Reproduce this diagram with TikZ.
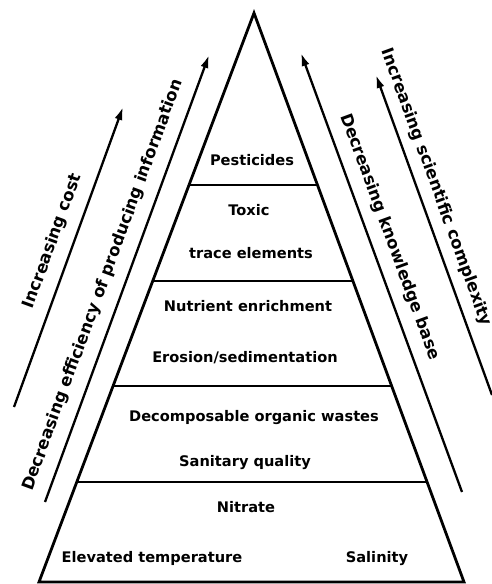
\documentclass[tikz,border=0pt]{standalone}
\usepackage{fontspec}
\setmainfont{DejaVu Sans}
\usepackage{tikz}
\usetikzlibrary{calc}
\usetikzlibrary{arrows.meta}
\tikzstyle{layer} = [font=\bfseries\fontsize{14.6}{16}\selectfont, anchor=base, inner sep=0pt]
\tikzstyle{trend} = [font=\bfseries\fontsize{16.5}{18}\selectfont, sloped, inner sep=2pt]
\tikzstyle{arrow} = [line width=2.3pt,-{Latex[length=13pt,width=8pt]}]
\tikzstyle{side} = [line width=2.8pt, line join=miter]
\tikzstyle{level} = [line width=2.2pt]

\begin{document}
\begin{tikzpicture}[x=1pt,y=-1pt]
\useasboundingbox (0,0) rectangle (492,584);
% pyramid
\coordinate (top) at (254,13);
\coordinate (bl) at (39,582);
\coordinate (br) at (464,582);
\draw[side] (top) -- (bl) -- (br) -- cycle;
\coordinate (l1) at ($(top)!0.302!(bl)$);
\coordinate (r1) at ($(top)!0.302!(br)$);
\coordinate (l2) at ($(top)!0.471!(bl)$);
\coordinate (r2) at ($(top)!0.471!(br)$);
\coordinate (l3) at ($(top)!0.656!(bl)$);
\coordinate (r3) at ($(top)!0.656!(br)$);
\coordinate (l4) at ($(top)!0.824!(bl)$);
\coordinate (r4) at ($(top)!0.824!(br)$);
\draw[level] (l1) -- (r1);
\draw[level] (l2) -- (r2);
\draw[level] (l3) -- (r3);
\draw[level] (l4) -- (r4);
% layer texts
\node[layer] (pest) at (252,165) {Pesticides};
\node[layer] (toxic) at (249,215) {Toxic};
\node[layer] (trace) at (251,258) {trace elements};
\node[layer] (nutr) at (248,311) {Nutrient enrichment};
\node[layer] (eros) at (245,362) {Erosion/sedimentation};
\node[layer] (decomp) at (254,421) {Decomposable organic wastes};
\node[layer] (sanit) at (245,466) {Sanitary quality};
\node[layer] (nitr) at (246,512) {Nitrate};
\node[layer] (temp) at (152,562) {Elevated temperature};
\node[layer] (salin) at (377,562) {Salinity};
% side arrows
\coordinate (costS) at (14,407);
\coordinate (costE) at (123,107);
\coordinate (effS) at (45,502);
\coordinate (effE) at (209,55);
\coordinate (knowS) at (462,492);
\coordinate (knowE) at (301,53);
\coordinate (sciS) at (492,395);
\coordinate (sciE) at (376,75);
\draw[arrow] (costS) -- (costE) node[trend, pos=0.53, above=9pt] (cost) {Increasing cost};
\draw[arrow] (effS) -- (effE) node[trend, pos=0.47, above=9pt] (eff) {Decreasing efficiency of producing information};
\draw[arrow] (knowS) -- (knowE) node[trend, pos=0.565, above=9pt] (know) {Decreasing knowledge base};
\draw[arrow] (sciS) -- (sciE) node[trend, pos=0.63, above=7pt] (sci) {Increasing scientific complexity};
\end{tikzpicture}
\end{document}
